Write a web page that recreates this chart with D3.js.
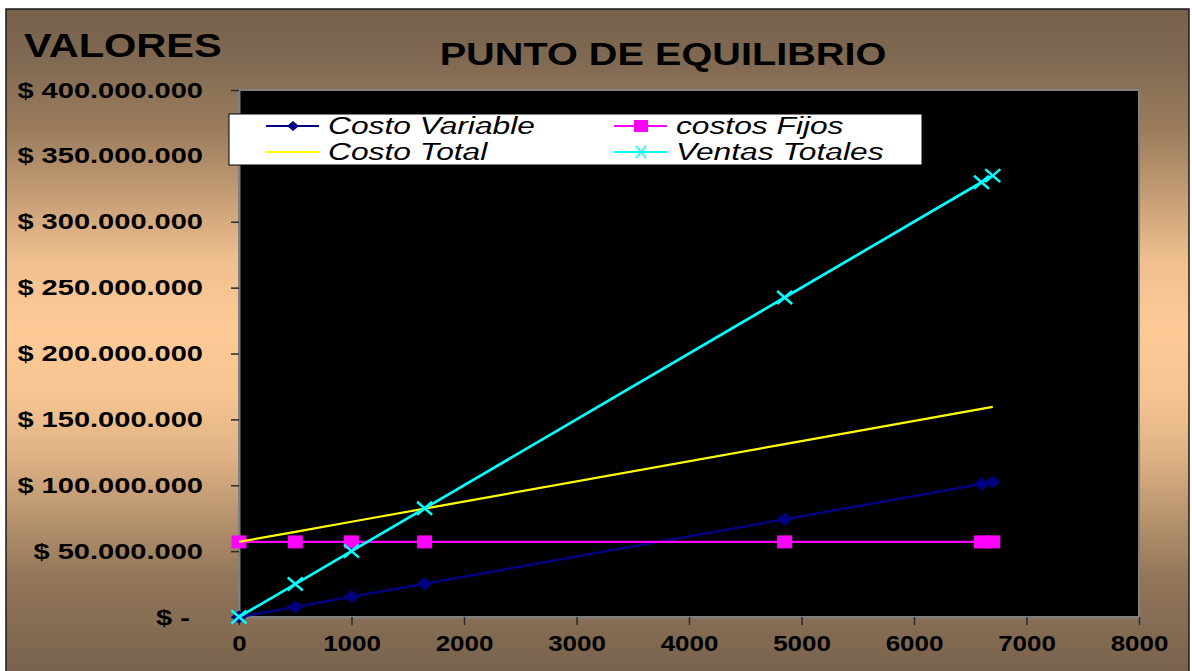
<!DOCTYPE html>
<html>
<head>
<meta charset="utf-8">
<script src="https://cdn.jsdelivr.net/npm/d3@7"></script>
<style>
  body { margin: 0; background: #ffffff; }
  svg { display: block; font-family: Arial, "Liberation Sans", sans-serif; }
</style>
</head>
<body>
<svg id="chart" width="1192" height="671"></svg>
<script>
// Units produced / sold
const units = [0, 500, 1000, 1650, 4850, 6600, 6700];
// Series values in pesos
const costoVariable = [0, 7650000, 15300000, 25245000, 74205000, 100980000, 102510000];
const costosFijos   = [57000000, 57000000, 57000000, 57000000, 57000000, 57000000, 57000000];
const costoTotal    = [57000000, 64650000, 72300000, 82245000, 131205000, 157980000, 159510000];
const ventasTotales = [0, 25000000, 50000000, 82500000, 242500000, 330000000, 335000000];
// Axis ticks
const yTicks = [0, 50000000, 100000000, 150000000, 200000000, 250000000, 300000000, 350000000, 400000000];
const xTicks = [0, 1000, 2000, 3000, 4000, 5000, 6000, 7000, 8000];
const titleText = "PUNTO DE EQUILIBRIO";
const yTitleText = "VALORES";

const svg = d3.select("#chart");

// Widen text horizontally around its anchor point
function stretch(sel, f) {
  sel.each(function () {
    const t = d3.select(this);
    const x = +t.attr("x") || 0;
    t.attr("transform", `translate(${x},0) scale(${f},1) translate(${-x},0)`);
  });
}

// Frame background: vertical brown-peach-brown gradient
const defs = svg.append("defs");
const grad = defs.append("linearGradient")
  .attr("id", "bg").attr("gradientUnits", "userSpaceOnUse")
  .attr("x1", 0).attr("y1", 9).attr("x2", 0).attr("y2", 671);
[[9, "#77614b"], [60, "#806952"], [130, "#9b7d5d"], [200, "#c89f76"], [260, "#efbf8e"],
 [330, "#fecb97"], [400, "#f4c390"], [460, "#ddb083"], [520, "#b5926d"], [580, "#917559"], [671, "#79634e"]]
  .forEach(([y, c]) => grad.append("stop").attr("offset", (y - 9) / 662).attr("stop-color", c));

svg.append("rect").attr("x", 6).attr("y", 9).attr("width", 1183).attr("height", 670)
  .attr("fill", "url(#bg)").attr("stroke", "#1a1a1a").attr("stroke-width", 1.5);

const plot = { left: 239, top: 90, right: 1139, bottom: 617 };
const x = d3.scaleLinear().domain([0, 8000]).range([plot.left, plot.right]);
const y = d3.scaleLinear().domain([0, 400000000]).range([plot.bottom, plot.top]);

// Plot area
svg.append("rect").attr("x", plot.left).attr("y", plot.top)
  .attr("width", plot.right - plot.left).attr("height", plot.bottom - plot.top)
  .attr("fill", "#000000").attr("stroke", "#808080").attr("stroke-width", 2);

// Number formatting: dot as thousands separator
const loc = d3.formatLocale({ decimal: ",", thousands: ".", grouping: [3], currency: ["$", ""] });
const fmt = loc.format(",.0f");

// Y axis
const yAxis = svg.append("g").attr("transform", `translate(${plot.left},0)`)
  .call(d3.axisLeft(y).tickValues(yTicks).tickSize(8).tickPadding(28)
    .tickFormat(d => d === 0 ? "$ -" : "$ " + fmt(d)));
yAxis.select(".domain").attr("stroke", "#808080").attr("stroke-width", 2);
yAxis.selectAll(".tick line").attr("stroke", "#2a2a2a").attr("stroke-width", 1.5);
yAxis.selectAll(".tick text")
  .attr("x", d => d === 0 ? -49 : -36)
  .attr("font-size", 22).attr("font-weight", "bold").attr("fill", "#000")
  .call(stretch, 1.32);

// X axis
const xAxis = svg.append("g").attr("transform", `translate(0,${plot.bottom})`)
  .call(d3.axisBottom(x).tickValues(xTicks).tickSize(8).tickPadding(10).tickFormat(d => String(d)));
xAxis.select(".domain").attr("stroke", "#808080").attr("stroke-width", 2);
xAxis.selectAll(".tick line").attr("stroke", "#2a2a2a").attr("stroke-width", 1.5);
xAxis.selectAll(".tick text")
  .attr("font-size", 22).attr("font-weight", "bold").attr("fill", "#000")
  .call(stretch, 1.18);

// Titles
svg.append("text").attr("x", 663).attr("y", 65).attr("text-anchor", "middle")
  .attr("font-size", 31).attr("font-weight", "bold").attr("fill", "#000")
  .text(titleText).call(stretch, 1.28);
svg.append("text").attr("x", 24).attr("y", 57)
  .attr("font-size", 33).attr("font-weight", "bold").attr("fill", "#000")
  .text(yTitleText).call(stretch, 1.26);

// Marker shapes
const markers = {
  diamond: (g, c) => g.append("path").attr("d", "M0,-6.5L8,0L0,6.5L-8,0Z").attr("fill", c),
  square: (g, c) => g.append("rect").attr("x", -7.5).attr("y", -6.5).attr("width", 15).attr("height", 13).attr("fill", c),
  cross: (g, c) => g.append("path").attr("d", "M-7.5,-6.5L7.5,6.5M-7.5,6.5L7.5,-6.5").attr("stroke", c).attr("stroke-width", 2.5).attr("fill", "none"),
  none: () => {}
};

const series = [
  { name: "Costo Variable", values: costoVariable, color: "#000080", width: 2.5, marker: "diamond" },
  { name: "costos Fijos", values: costosFijos, color: "#ff00ff", width: 2.2, marker: "square" },
  { name: "Costo Total", values: costoTotal, color: "#ffff00", width: 2.2, marker: "none" },
  { name: "Ventas Totales", values: ventasTotales, color: "#00ffff", width: 2.7, marker: "cross" }
];

const line = d3.line().x(d => x(d[0])).y(d => y(d[1]));
series.forEach(s => {
  const pts = units.map((u, i) => [u, s.values[i]]);
  svg.append("path").datum(pts).attr("d", line)
    .attr("fill", "none").attr("stroke", s.color).attr("stroke-width", s.width);
  pts.forEach(p => {
    const g = svg.append("g").attr("transform", `translate(${x(p[0])},${y(p[1])})`);
    markers[s.marker](g, s.color);
  });
});

// Legend
const legend = svg.append("g");
legend.append("rect").attr("x", 229).attr("y", 114).attr("width", 693).attr("height", 51)
  .attr("fill", "#ffffff").attr("stroke", "#000").attr("stroke-width", 1);
const legendPos = [
  { lx: 266, ty: 126 }, { lx: 614, ty: 126 }, { lx: 266, ty: 152 }, { lx: 614, ty: 152 }
];
series.forEach((s, i) => {
  const p = legendPos[i];
  legend.append("line").attr("x1", p.lx).attr("x2", p.lx + 53).attr("y1", p.ty).attr("y2", p.ty)
    .attr("stroke", s.color).attr("stroke-width", 2);
  const g = legend.append("g").attr("transform", `translate(${p.lx + 27},${p.ty})`);
  if (s.marker === "diamond") g.append("path").attr("d", "M0,-5L6,0L0,5L-6,0Z").attr("fill", s.color);
  else if (s.marker === "square") g.append("rect").attr("x", -7).attr("y", -6).attr("width", 14).attr("height", 12).attr("fill", s.color);
  else if (s.marker === "cross") g.append("path").attr("d", "M-5,-6L5,6M-5,6L5,-6").attr("stroke", s.color).attr("stroke-width", 1.5);
  legend.append("text").attr("x", p.lx + 62).attr("y", p.ty + 8)
    .attr("font-size", 23).attr("font-style", "italic").attr("fill", "#000")
    .text(s.name).call(stretch, 1.38);
});
</script>
</body>
</html>
